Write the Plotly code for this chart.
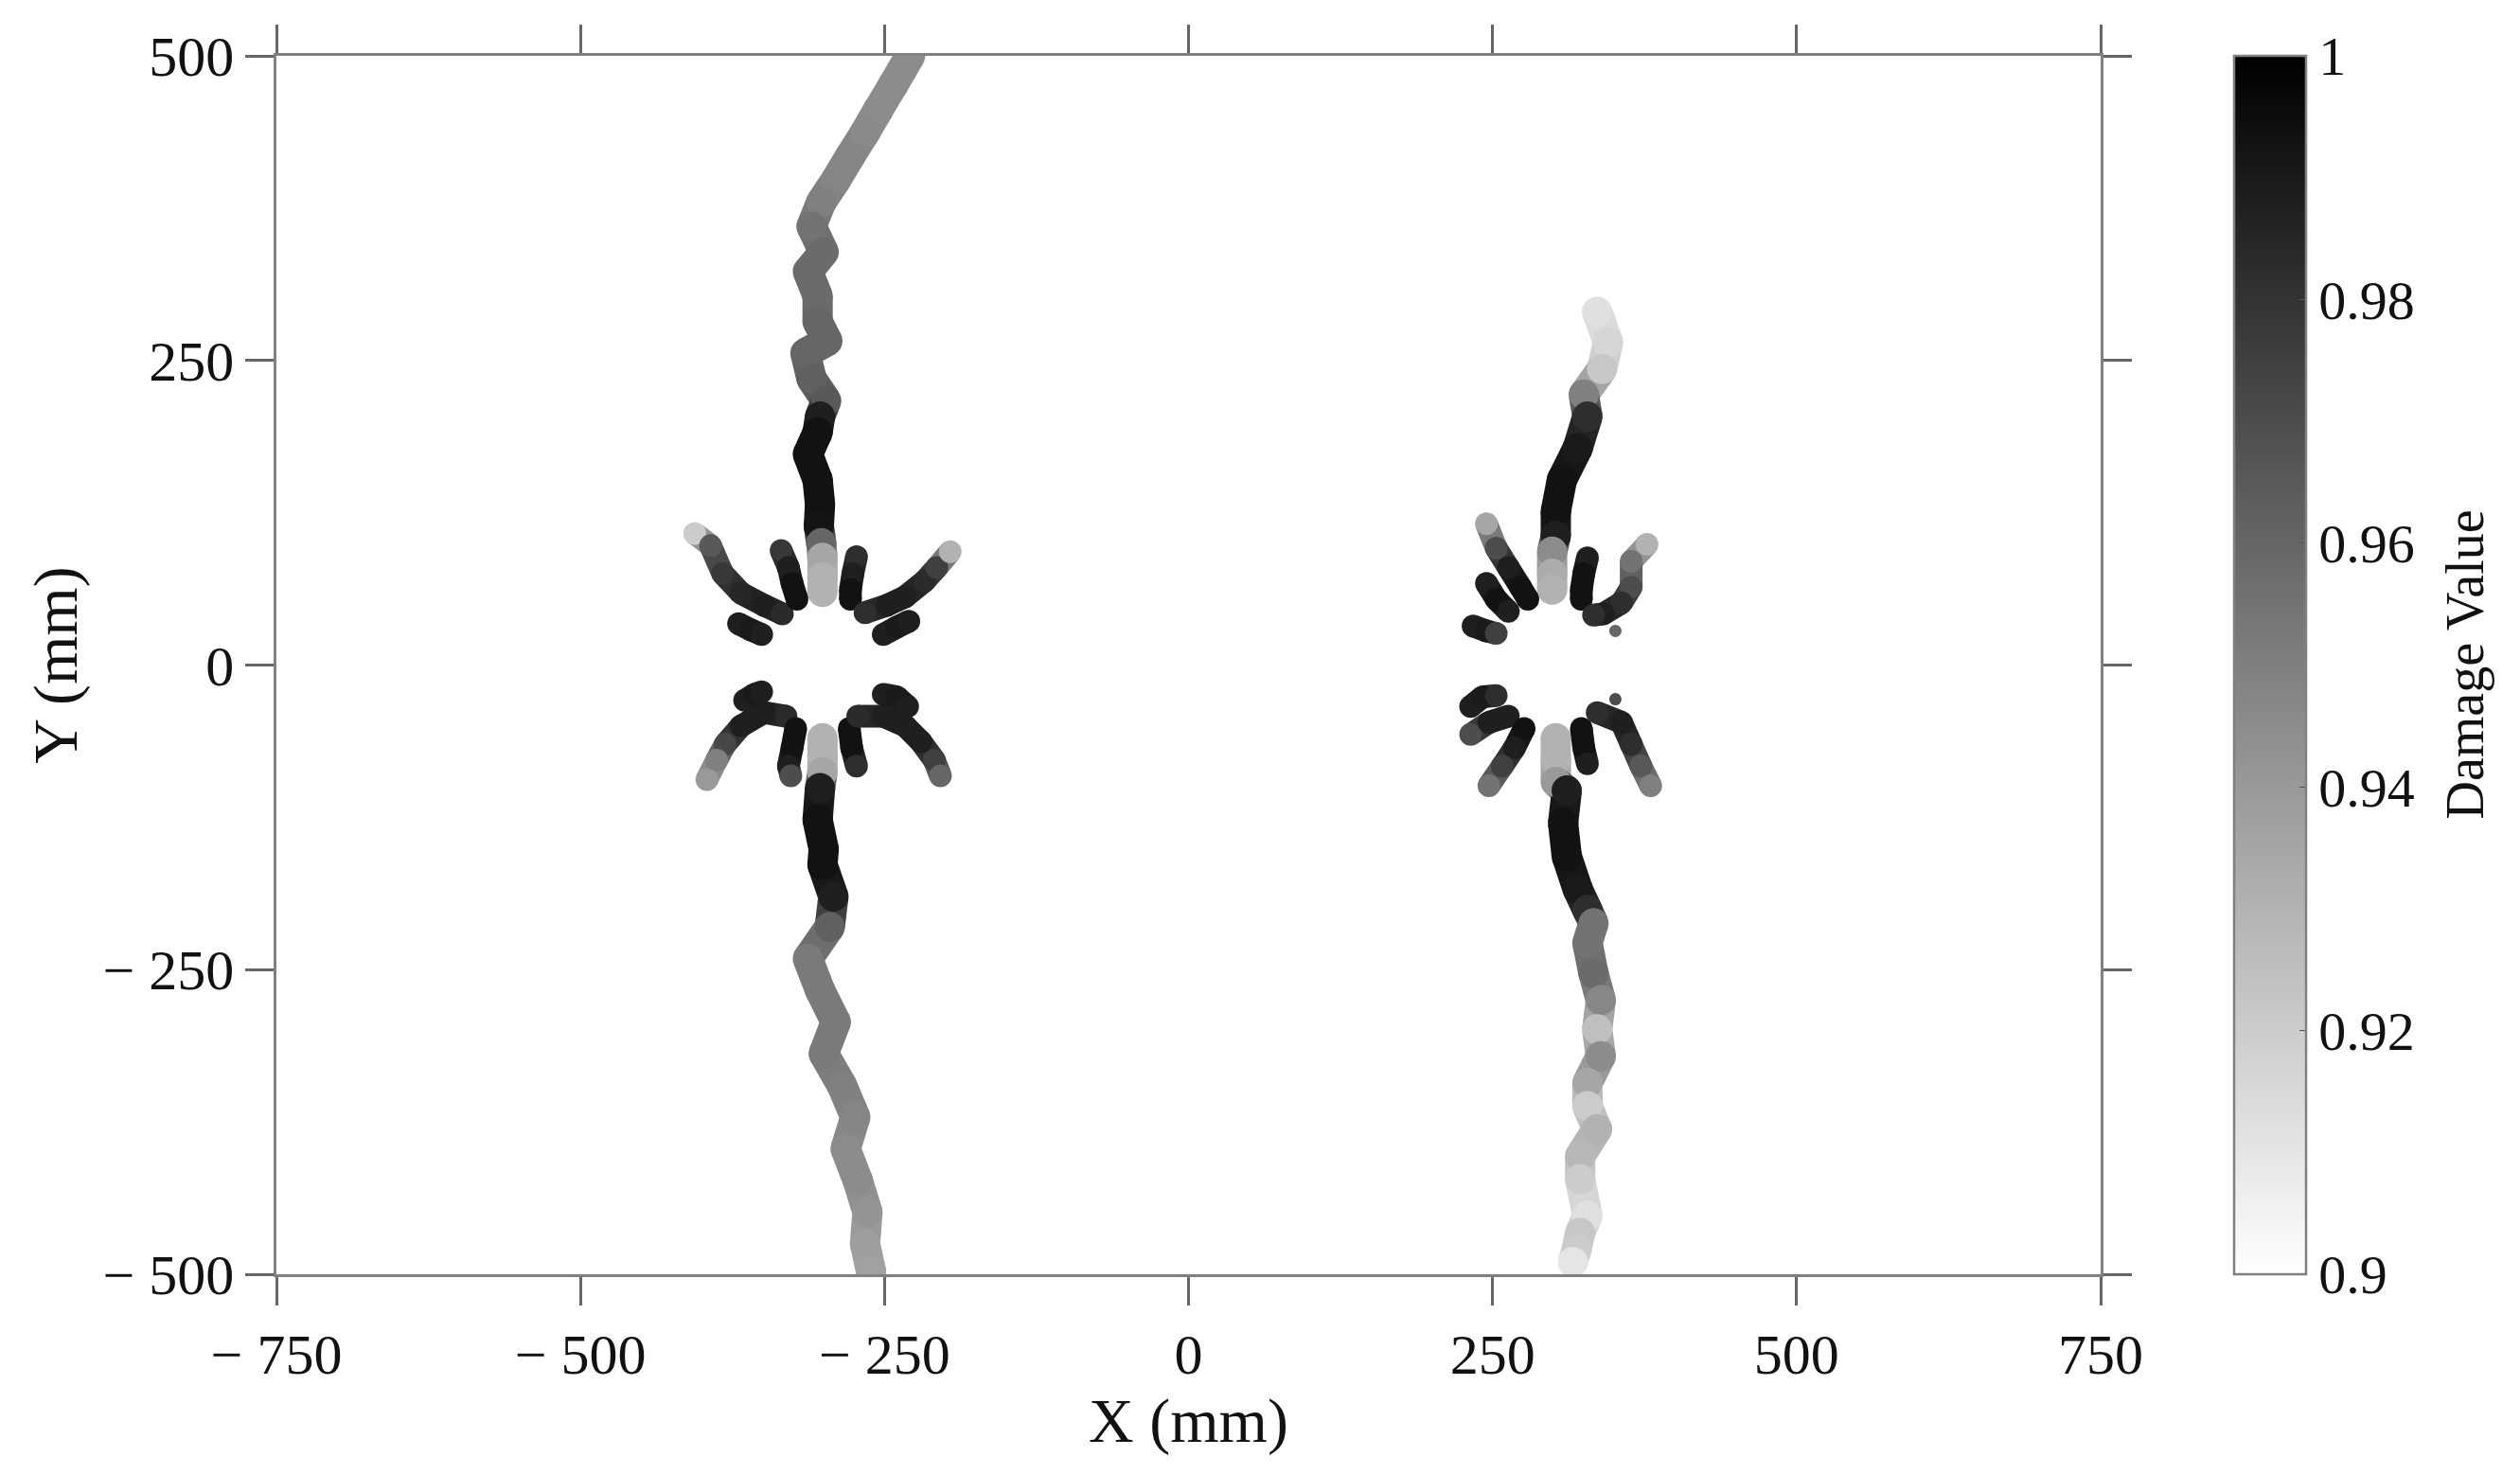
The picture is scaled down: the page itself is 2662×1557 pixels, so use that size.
import plotly.graph_objects as go
from plotly.colors import sample_colorscale

# ---------------- data (x, y in mm; d = damage value) ----------------
# Left hole, main crack upward
LU_x = [-229, -236, -243, -255, -266, -278, -290, -302, -310, -300, -313, -305, -305, -297, -315, -310, -298, -303, -305, -313, -305, -303, -304, -302, -301, -301, -301]
LU_y = [500, 488, 476, 456, 437, 418, 398, 380, 360, 339, 323, 303, 282, 266, 256, 235, 217, 204, 191, 173, 152, 132, 114, 100, 88, 72, 60]
LU_d = [0.945, 0.945, 0.945, 0.945, 0.946, 0.948, 0.948, 0.950, 0.955, 0.958, 0.958, 0.958, 0.960, 0.960, 0.960, 0.962, 0.965, 0.988, 0.993, 0.993, 0.993, 0.993, 0.992, 0.960, 0.935, 0.930, 0.930]
# Left hole, main crack downward
LD_x = [-301, -301, -301, -303, -305, -300, -301, -292, -295, -313, -303, -290, -300, -285, -274, -282, -272, -264, -266, -261]
LD_y = [-60, -75, -88, -101, -127, -151, -164, -190, -215, -241, -267, -293, -319, -345, -371, -397, -423, -449, -475, -498]
LD_d = [0.930, 0.930, 0.935, 0.988, 0.993, 0.993, 0.993, 0.988, 0.962, 0.952, 0.952, 0.952, 0.952, 0.950, 0.948, 0.945, 0.945, 0.942, 0.938, 0.937]
# Right hole, main crack upward
RU_x = [336, 345, 340, 325, 328, 320, 307, 302, 302, 299, 299, 299]
RU_y = [290, 265, 243, 222, 204, 178, 152, 126, 106, 93, 75, 62]
RU_d = [0.912, 0.916, 0.922, 0.950, 0.982, 0.990, 0.993, 0.993, 0.988, 0.945, 0.933, 0.930]
# Right hole, main crack downward
RD_x = [302, 302, 302, 311, 308, 311, 320, 328, 333, 328, 333, 339, 336, 339, 328, 328, 336, 322, 322, 328, 322, 319, 316]
RD_y = [-60, -78, -96, -103, -130, -157, -184, -201, -212, -228, -253, -275, -299, -321, -343, -362, -381, -403, -422, -452, -466, -480, -490]
RD_d = [0.930, 0.930, 0.940, 0.988, 0.993, 0.993, 0.990, 0.982, 0.955, 0.955, 0.958, 0.947, 0.925, 0.945, 0.935, 0.920, 0.930, 0.928, 0.920, 0.912, 0.922, 0.920, 0.910]

# Left hole branches
LB1_x = [-406, -393, -383, -368, -349, -334]; LB1_y = [108, 98, 75, 59, 49, 42]; LB1_d = [0.920, 0.965, 0.978, 0.985, 0.988, 0.983]
LB2_x = [-370, -360, -351]; LB2_y = [34, 29, 25]; LB2_d = [0.988, 0.990, 0.988]
LB3_x = [-335, -329, -326, -322]; LB3_y = [94, 80, 67, 54]; LB3_d = [0.978, 0.988, 0.993, 0.993]
LB4_x = [-273, -276, -278, -278]; LB4_y = [89, 75, 62, 54]; LB4_d = [0.982, 0.988, 0.993, 0.993]
LB5_x = [-266, -248, -233, -217, -207, -196]; LB5_y = [43, 49, 56, 69, 80, 93]; LB5_d = [0.982, 0.988, 0.988, 0.983, 0.975, 0.930]
LB6_x = [-251, -240, -230]; LB6_y = [25, 31, 36]; LB6_d = [0.988, 0.990, 0.988]
LB7_x = [-365, -357, -351]; LB7_y = [-29, -24, -22]; LB7_d = [0.988, 0.990, 0.988]
LB8_x = [-331, -349, -368, -381, -388, -396]; LB8_y = [-42, -39, -50, -65, -78, -94]; LB8_d = [0.983, 0.988, 0.988, 0.972, 0.950, 0.940]
LB9_x = [-323, -326, -329, -327]; LB9_y = [-52, -68, -83, -91]; LB9_d = [0.993, 0.993, 0.988, 0.970]
LB10_x = [-279, -277, -273]; LB10_y = [-52, -68, -83]; LB10_d = [0.993, 0.993, 0.982]
LB11_x = [-272, -251, -233, -220, -209, -204]; LB11_y = [-42, -42, -50, -63, -78, -91]; LB11_d = [0.983, 0.988, 0.988, 0.988, 0.975, 0.960]
LB12_x = [-251, -240, -231]; LB12_y = [-24, -26, -34]; LB12_d = [0.988, 0.990, 0.988]

# Right hole branches
RB1_x = [245, 253, 263, 273, 279]; RB1_y = [116, 96, 80, 64, 54]; RB1_d = [0.935, 0.970, 0.988, 0.993, 0.993]
RB2_x = [245, 253, 263]; RB2_y = [67, 54, 44]; RB2_d = [0.988, 0.993, 0.988]
RB3_x = [234, 245, 253]; RB3_y = [32, 28, 26]; RB3_d = [0.988, 0.990, 0.975]
RB4_x = [328, 325, 323, 323]; RB4_y = [88, 75, 62, 54]; RB4_d = [0.988, 0.993, 0.993, 0.993]
RB5_x = [377, 364, 364, 356, 341, 333]; RB5_y = [99, 85, 64, 51, 42, 41]; RB5_d = [0.930, 0.955, 0.970, 0.982, 0.988, 0.982]
RB6_x = [351]; RB6_y = [28]; RB6_d = [0.960]
RB7_x = [232, 242, 253]; RB7_y = [-34, -26, -25]; RB7_d = [0.988, 0.990, 0.982]
RB8_x = [232, 247, 263]; RB8_y = [-57, -47, -42]; RB8_d = [0.970, 0.988, 0.988]
RB9_x = [276, 268, 258, 247]; RB9_y = [-52, -68, -83, -99]; RB9_d = [0.993, 0.988, 0.975, 0.955]
RB10_x = [323, 325, 328]; RB10_y = [-52, -68, -81]; RB10_d = [0.993, 0.993, 0.988]
RB11_x = [336, 356, 364, 372, 380]; RB11_y = [-39, -47, -65, -83, -99]; RB11_d = [0.982, 0.988, 0.982, 0.965, 0.950]
RB12_x = [351]; RB12_y = [-28]; RB12_d = [0.970]

X_TICKS = [-750, -500, -250, 0, 250, 500, 750]
X_TICK_TEXT = ["\u2212 750", "\u2212 500", "\u2212 250", "0", "250", "500", "750"]
Y_TICKS = [-500, -250, 0, 250, 500]
Y_TICK_TEXT = ["\u2212 500", "\u2212 250", "0", "250", "500"]
CB_TICKS = [0.9, 0.92, 0.94, 0.96, 0.98, 1.0]
CB_TICK_TEXT = ["0.9", "0.92", "0.94", "0.96", "0.98", "1"]
D_MIN, D_MAX = 0.9, 1.0

# ---------------- figure ----------------
GRAYS = [[0.0, "rgb(255,255,255)"], [1.0, "rgb(0,0,0)"]]
FONT = "Liberation Serif, Times New Roman, serif"

main_cracks = [(LU_x, LU_y, LU_d), (LD_x, LD_y, LD_d), (RU_x, RU_y, RU_d), (RD_x, RD_y, RD_d)]
branches = [(LB1_x, LB1_y, LB1_d), (LB2_x, LB2_y, LB2_d), (LB3_x, LB3_y, LB3_d), (LB4_x, LB4_y, LB4_d),
            (LB5_x, LB5_y, LB5_d), (LB6_x, LB6_y, LB6_d), (LB7_x, LB7_y, LB7_d), (LB8_x, LB8_y, LB8_d),
            (LB9_x, LB9_y, LB9_d), (LB10_x, LB10_y, LB10_d), (LB11_x, LB11_y, LB11_d), (LB12_x, LB12_y, LB12_d),
            (RB1_x, RB1_y, RB1_d), (RB2_x, RB2_y, RB2_d), (RB3_x, RB3_y, RB3_d), (RB4_x, RB4_y, RB4_d),
            (RB5_x, RB5_y, RB5_d), (RB7_x, RB7_y, RB7_d), (RB8_x, RB8_y, RB8_d), (RB9_x, RB9_y, RB9_d),
            (RB10_x, RB10_y, RB10_d), (RB11_x, RB11_y, RB11_d)]
dots = [(RB6_x, RB6_y, RB6_d), (RB12_x, RB12_y, RB12_d)]

fig = go.Figure()


def add_crack(xs, ys, ds, width):
    for i in range(len(xs) - 1):
        dm = 0.5 * (ds[i] + ds[i + 1])
        col = sample_colorscale(GRAYS, [(dm - D_MIN) / (D_MAX - D_MIN)])[0]
        fig.add_trace(go.Scatter(x=[xs[i], xs[i + 1]], y=[ys[i], ys[i + 1]], mode="lines",
                                 line=dict(color=col, width=width), hoverinfo="skip", showlegend=False))
    fig.add_trace(go.Scatter(x=xs, y=ys, mode="markers", showlegend=False,
                             marker=dict(color=ds, coloraxis="coloraxis", size=width, line=dict(width=0))))


for c in main_cracks:
    add_crack(*c, 32)
for c in branches:
    add_crack(*c, 24)
for c in dots:
    add_crack(*c, 13)

axis_common = dict(showline=True, linecolor="#808080", linewidth=2.5, mirror="ticks", ticks="outside",
                   ticklen=30, tickwidth=2.5, tickcolor="#666666", showgrid=False, zeroline=False,
                   tickfont=dict(family=FONT, size=60, color="#111111"))

# page body has an 8 px margin, so the figure is laid out 8 px smaller than the window
W, H = 2646, 1541
PL, PT, PW, PH = 284, 51, 1927, 1287

fig.update_layout(
    width=W, height=H,
    margin=dict(l=PL, r=W - PL - PW, t=PT, b=H - PT - PH, autoexpand=False),
    paper_bgcolor="white", plot_bgcolor="white",
    font=dict(family=FONT, color="#111111"),
    xaxis=dict(range=[-750, 750], tickvals=X_TICKS, ticktext=X_TICK_TEXT,
               title=dict(text="X (mm)", font=dict(family=FONT, size=66), standoff=2), **axis_common),
    yaxis=dict(range=[-500, 500], tickvals=Y_TICKS, ticktext=Y_TICK_TEXT,
               title=dict(text="Y (mm)", font=dict(family=FONT, size=66), standoff=6), **axis_common),
    coloraxis=dict(
        cmin=D_MIN, cmax=D_MAX, colorscale=GRAYS,
        colorbar=dict(
            x=(2360 - 292) / PW, xanchor="left", y=0.5, yanchor="middle",
            len=1.0, lenmode="fraction", thickness=76, thicknessmode="pixels",
            xpad=0, ypad=0, outlinecolor="#808080", outlinewidth=2.5,
            tickvals=CB_TICKS, ticktext=CB_TICK_TEXT, ticks="inside", ticklen=8,
            tickcolor="#555555", tickfont=dict(family=FONT, size=58, color="#111111"),
        ),
    ),
    annotations=[dict(text="Damage Value", textangle=-90, xref="paper", yref="paper",
                      x=(2603 - 292) / PW, y=0.5, xanchor="center", yanchor="middle", showarrow=False,
                      font=dict(family=FONT, size=56, color="#111111"))],
)

fig.write_html("out.html")
